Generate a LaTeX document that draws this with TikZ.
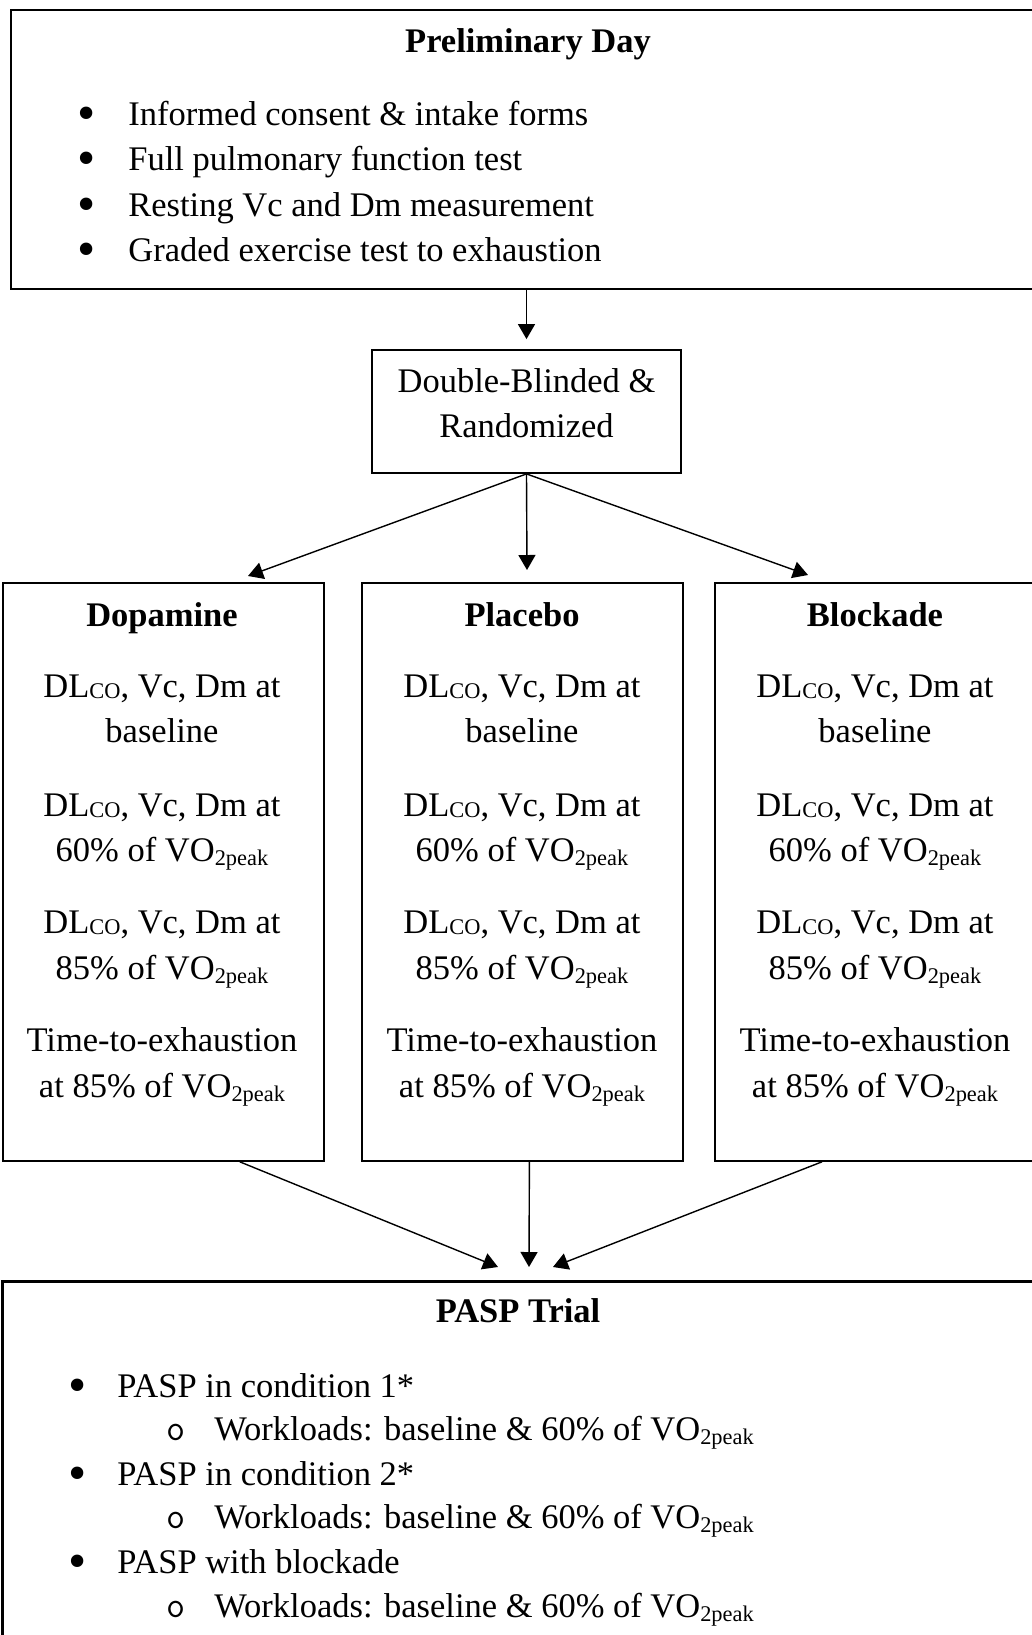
\documentclass[tikz,border=0pt]{standalone}
\usepackage{fontspec}
\setmainfont{Liberation Serif}
\usetikzlibrary{arrows.meta,calc}
\newcommand\lowsub[2][0.04em]{\raisebox{-#1}{\fontsize{11.2pt}{11.2pt}\selectfont #2}}
\newcommand\DLco{DL\lowsub{CO}}
\newcommand\VOpk{VO\lowsub[0.12em]{2peak}}
\begin{document}
\begin{tikzpicture}[x=0.5pt,y=-0.5pt,
  txt/.style={inner sep=0pt, anchor=base, font=\fontsize{17.25pt}{22.5pt}\selectfont},
  ttl/.style={inner sep=0pt, anchor=base, font=\fontsize{17.25pt}{22.5pt}\selectfont\bfseries},
  lft/.style={txt, anchor=base west},
  bul/.style={inner sep=0pt, anchor=base, font=\fontsize{26pt}{26pt}\selectfont},
  sbul/.style={inner sep=0pt, anchor=base, font=\fontsize{18.5pt}{22.5pt}\ttfamily},
  bigbox/.style={draw, anchor=north west, inner sep=0pt},
  colbox/.style={draw, line width=0.9pt, anchor=north west, inner sep=0pt, minimum width=160.5pt, minimum height=289pt},
  arr/.style={line width=0.7pt, -{Triangle[length=7.5pt,width=8.5pt]}}]
\useasboundingbox (0,0) rectangle (1032,1635);
\clip (0,0) rectangle (1032,1635);

% Preliminary day box
\node[bigbox, line width=1pt, minimum width=530pt, minimum height=139.5pt] (prelim) at (10,9) {};
\node[ttl] (prelim-title) at (528,52) {Preliminary Day};
\foreach \i/\y/\t in {1/125/Informed consent \& intake forms,
                      2/170/Full pulmonary function test,
                      3/216/Resting Vc and Dm measurement,
                      4/261/Graded exercise test to exhaustion} {
  \node[bul] (pb\i) at (87,\y+5) {\smash{•}};
  \node[lft] (pt\i) at (128,\y) {\t};
}

% Randomisation box
\node[draw, line width=0.9pt, inner sep=0pt, minimum width=154.5pt, minimum height=61.5pt] (db) at (526.5,411.5) {};
\node[txt] (db1) at (526.5,392) {Double-Blinded \&};
\node[txt] (db2) at (526.5,437) {Randomized};

% Condition boxes
\node[colbox] (dop) at (2,582) {};
\node[colbox] (plc) at (361,582) {};
\node[colbox] (blk) at (714,582) {};
\foreach \c/\x/\t in {dop/162/Dopamine, plc/522/Placebo, blk/875/Blockade} {
  \node[ttl] (\c-title) at (\x,626) {\t};
  \node[txt] (\c-a1) at (\x,697) {\DLco, Vc, Dm at};
  \node[txt] (\c-a2) at (\x,742) {baseline};
  \node[txt] (\c-b1) at (\x,816) {\DLco, Vc, Dm at};
  \node[txt] (\c-b2) at (\x,861) {60\% of \VOpk};
  \node[txt] (\c-c1) at (\x,933) {\DLco, Vc, Dm at};
  \node[txt] (\c-c2) at (\x,979) {85\% of \VOpk};
  \node[txt] (\c-d1) at (\x,1051) {Time-to-exhaustion};
  \node[txt] (\c-d2) at (\x,1097) {at 85\% of \VOpk};
}

% PASP trial box
\node[bigbox, line width=1.5pt, minimum width=530pt, minimum height=220pt] (pasp) at (1,1280) {};
\node[ttl] (pasp-title) at (518,1322) {PASP Trial};
\foreach \i/\y/\t in {1/1397/PASP in condition 1*,
                      2/1485/PASP in condition 2*,
                      3/1573/PASP with blockade} {
  \node[bul] (qb\i) at (78,\y+5) {\smash{•}};
  \node[lft] (qt\i) at (117,\y) {\t};
}
\foreach \i/\y in {1/1440, 2/1528, 3/1617} {
  \node[sbul] (qs\i) at (176,\y) {o};
  \node[lft] (qw\i) at (214,\y) {Workloads: baseline \& 60\% of \VOpk};
}

% arrow end points
\coordinate (tL) at (248,576);
\coordinate (tM) at (527,570);
\coordinate (tR) at (808,575);
\coordinate (bL) at (498,1267);
\coordinate (bM) at (529,1267);
\coordinate (bR) at (553,1267);

% connectors
\draw[arr, shorten >=5pt] (prelim.south -| db.north) -- (db.north);
\draw[arr] (db.south) -- (tL);
\draw[arr] (db.south) -- (tM);
\draw[arr] (db.south) -- (tR);
\draw[arr] ($(dop.south east)+(-85,0)$) -- (bL);
\draw[arr] ($(plc.south)+(7,0)$) -- (bM);
\draw[arr] ($(blk.south west)+(108,0)$) -- (bR);
\end{tikzpicture}
\end{document}
